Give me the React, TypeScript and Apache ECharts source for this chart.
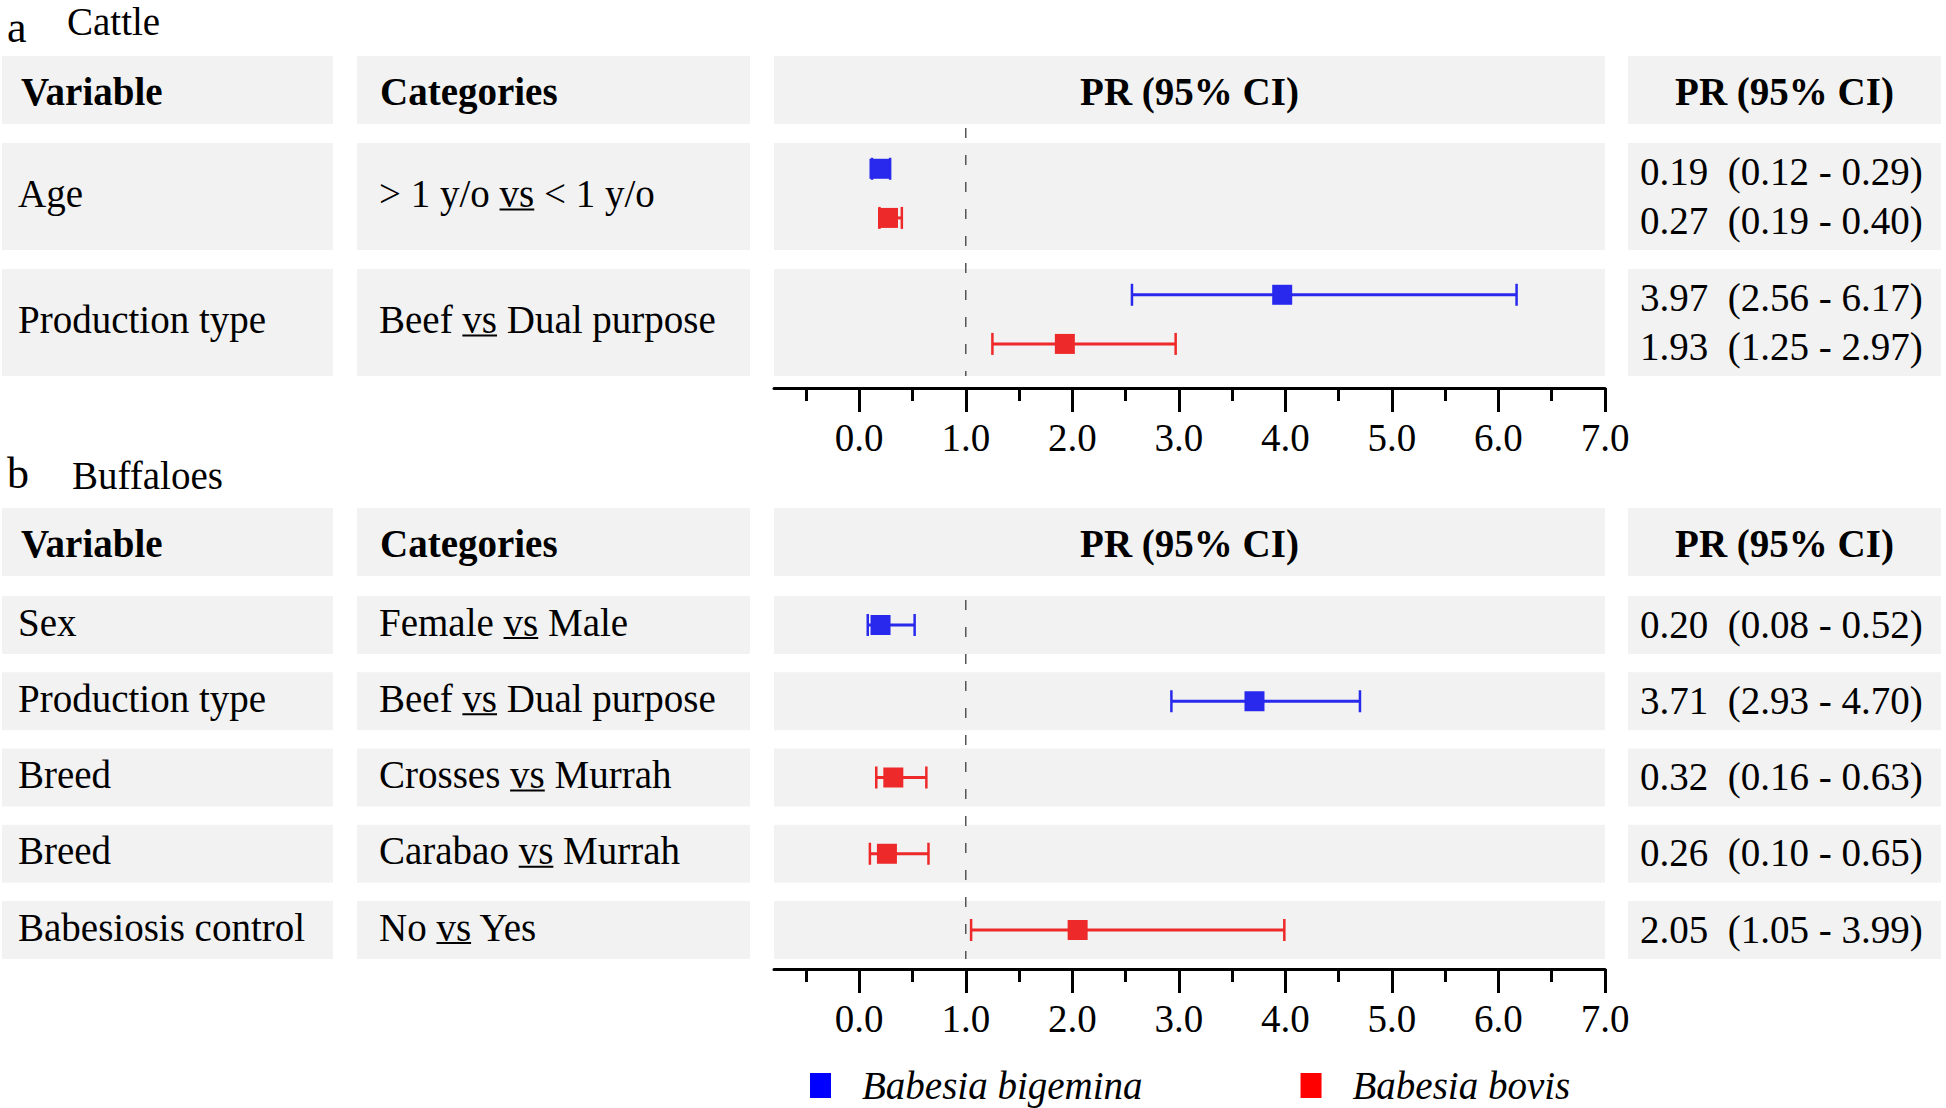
import React, { useEffect, useRef } from "react";
import * as echarts from "echarts";

const FONT = "'Liberation Serif', 'Times New Roman', Times, serif";

// ---------- data ----------
const speciesNames = ["Babesia bigemina", "Babesia bovis"];

const cattleVariables = ["Age", "Production type"];
const cattleCategories = ["> 1 y/o vs < 1 y/o", "Beef vs Dual purpose"];
const cattleBigeminaPR = [0.19, 3.97];
const cattleBigeminaLow = [0.12, 2.56];
const cattleBigeminaHigh = [0.29, 6.17];
const cattleBovisPR = [0.27, 1.93];
const cattleBovisLow = [0.19, 1.25];
const cattleBovisHigh = [0.4, 2.97];

const buffaloVariables = ["Sex", "Production type", "Breed", "Breed", "Babesiosis control"];
const buffaloCategories = [
  "Female vs Male",
  "Beef vs Dual purpose",
  "Crosses vs Murrah",
  "Carabao vs Murrah",
  "No vs Yes",
];
const buffaloSpecies = [0, 0, 1, 1, 1]; // 0 = B. bigemina, 1 = B. bovis
const buffaloPR = [0.2, 3.71, 0.32, 0.26, 2.05];
const buffaloLow = [0.08, 2.93, 0.16, 0.1, 1.05];
const buffaloHigh = [0.52, 4.7, 0.63, 0.65, 3.99];

const xTickValues = [0, 1, 2, 3, 4, 5, 6, 7];
const xMinorTickValues = [-0.5, 0.5, 1.5, 2.5, 3.5, 4.5, 5.5, 6.5];
const xMin = -0.8;
const xMax = 7;
const referenceValue = 1;

const headerTexts = ["Variable", "Categories", "PR (95% CI)", "PR (95% CI)"];

// ---------- styles / layout ----------
const pointColors = ["#2929EE", "#EE2929"];
const legendColors = ["#0000FF", "#FF0000"];
const PANEL = "#F2F2F2";

const COL = {
  varX: 2, varW: 331, varText: 18, varHeadText: 21,
  catX: 357, catW: 393, catText: 379, catHeadText: 380,
  plotX: 774, plotW: 831,
  prX: 1628, prW: 313, prText: 1640,
};

const CAT = { headerTop: 56, headerH: 68, rowsTop: 143, step: 126, panelH: 107, axisOffset: 12 };
const BUF = { headerTop: 508, headerH: 68, rowsTop: 596, step: 76.25, panelH: 58, axisOffset: 10 };
const cattleSpeciesOffset = [-0.22, 0.17];

function fmtPR(pr: number, lo: number, hi: number) {
  return `${pr.toFixed(2)}  (${lo.toFixed(2)} - ${hi.toFixed(2)})`;
}

let measureCtx: CanvasRenderingContext2D | null = null;
function measure(text: string, font: string) {
  if (!measureCtx) measureCtx = document.createElement("canvas").getContext("2d");
  measureCtx!.font = font;
  return measureCtx!.measureText(text).width;
}

const REG = `39px ${FONT}`;
const BOLD = `bold 39px ${FONT}`;

function txt(text: string, x: number, y: number, font: string, align = "left") {
  return {
    type: "text",
    z: 5,
    silent: true,
    style: {
      text, x, y, font, fill: "#000",
      textAlign: align, align,
      textVerticalAlign: "middle", verticalAlign: "middle",
    },
  };
}
function rect(x: number, y: number, w: number, h: number) {
  return { type: "rect", z: 0, silent: true, shape: { x, y, width: w, height: h }, style: { fill: PANEL } };
}
function underline(s: string, x0: number, cy: number) {
  const idx = s.indexOf(" vs ") + 1;
  const x1 = x0 + measure(s.slice(0, idx), REG);
  const x2 = x0 + measure(s.slice(0, idx + 2), REG);
  return { type: "line", z: 5, silent: true, shape: { x1, y1: cy + 16, x2, y2: cy + 16 }, style: { stroke: "#000", lineWidth: 2 } };
}

function sectionGraphics(L: typeof CAT, vars: string[], cats: string[], prTexts: string[][], prTextY: number[][]) {
  const els: any[] = [];
  const hc = L.headerTop + L.headerH / 2 + 1;
  els.push(rect(COL.varX, L.headerTop, COL.varW, L.headerH));
  els.push(rect(COL.catX, L.headerTop, COL.catW, L.headerH));
  els.push(rect(COL.plotX, L.headerTop, COL.plotW, L.headerH));
  els.push(rect(COL.prX, L.headerTop, COL.prW, L.headerH));
  els.push(txt(headerTexts[0], COL.varHeadText, hc, BOLD));
  els.push(txt(headerTexts[1], COL.catHeadText, hc, BOLD));
  els.push(txt(headerTexts[2], COL.plotX + COL.plotW / 2, hc, BOLD, "center"));
  els.push(txt(headerTexts[3], COL.prX + COL.prW / 2, hc, BOLD, "center"));
  vars.forEach((v, i) => {
    const top = L.rowsTop + i * L.step;
    const cy = top + L.panelH / 2 - 3;
    els.push(rect(COL.varX, top, COL.varW, L.panelH));
    els.push(rect(COL.catX, top, COL.catW, L.panelH));
    els.push(rect(COL.plotX, top, COL.plotW, L.panelH));
    els.push(rect(COL.prX, top, COL.prW, L.panelH));
    els.push(txt(v, COL.varText, cy, REG));
    els.push(txt(cats[i], COL.catText, cy, REG));
    els.push(underline(cats[i], COL.catText, cy));
    prTexts[i].forEach((t, k) => els.push(txt(t, COL.prText, prTextY[i][k], REG)));
  });
  return els;
}

function errorBarRender(params: any, api: any) {
  const y = api.value(2);
  const a = api.coord([api.value(0), y]);
  const b = api.coord([api.value(1), y]);
  const color = pointColors[api.value(3)];
  const h = 11;
  return {
    type: "group",
    children: [
      { type: "line", shape: { x1: a[0], y1: a[1], x2: b[0], y2: b[1] }, style: { stroke: color, lineWidth: 3 } },
      { type: "line", shape: { x1: a[0], y1: a[1] - h, x2: a[0], y2: a[1] + h }, style: { stroke: color, lineWidth: 2.5 } },
      { type: "line", shape: { x1: b[0], y1: b[1] - h, x2: b[0], y2: b[1] + h }, style: { stroke: color, lineWidth: 2.5 } },
    ],
  };
}

function xAxesFor(gridIndex: number, offset: number) {
  return [
    {
      gridIndex, type: "value", min: xMin, max: xMax, position: "bottom", offset,
      axisLine: { show: true, onZero: false, lineStyle: { color: "#000", width: 3 } },
      axisTick: { show: true, customValues: xTickValues, length: 24, lineStyle: { color: "#000", width: 3 } },
      axisLabel: {
        show: true, customValues: xTickValues, margin: 30, color: "#000",
        fontSize: 39, fontFamily: FONT, formatter: (v: number) => v.toFixed(1),
      },
      splitLine: { show: false },
    },
    {
      gridIndex, type: "value", min: xMin, max: xMax, position: "bottom", offset,
      axisLine: { show: false, onZero: false },
      axisTick: { show: true, customValues: xMinorTickValues, length: 13, lineStyle: { color: "#000", width: 3 } },
      axisLabel: { show: false },
      splitLine: { show: false },
    },
  ];
}

export default function App() {
  const ref = useRef<HTMLDivElement>(null);
  useEffect(() => {
    document.body.style.margin = "0";
    const chart = echarts.init(ref.current!, null, { renderer: "svg" });

    const catHalf = CAT.panelH / 2 / CAT.step;
    const bufHalf = BUF.panelH / 2 / BUF.step;
    const nC = cattleVariables.length;
    const nB = buffaloVariables.length;

    const cattleSets = [
      { pr: cattleBigeminaPR, lo: cattleBigeminaLow, hi: cattleBigeminaHigh },
      { pr: cattleBovisPR, lo: cattleBovisLow, hi: cattleBovisHigh },
    ];
    const cattleErr: number[][] = [];
    cattleSets.forEach((s, k) =>
      s.pr.forEach((_, i) => cattleErr.push([s.lo[i], s.hi[i], i + cattleSpeciesOffset[k], k]))
    );
    const bufErr = buffaloPR.map((_, i) => [buffaloLow[i], buffaloHigh[i], i, buffaloSpecies[i]]);

    const cattleRowCenter = (i: number) => CAT.rowsTop + CAT.panelH / 2 + i * CAT.step;
    const bufRowCenter = (i: number) => BUF.rowsTop + BUF.panelH / 2 + i * BUF.step;

    const cattlePrTexts = cattleVariables.map((_, i) =>
      cattleSets.map((s) => fmtPR(s.pr[i], s.lo[i], s.hi[i]))
    );
    const cattlePrY = cattleVariables.map((_, i) =>
      cattleSets.map((_s, k) => cattleRowCenter(i) + cattleSpeciesOffset[k] * CAT.step + 3)
    );
    const bufPrTexts = buffaloVariables.map((_, i) => [fmtPR(buffaloPR[i], buffaloLow[i], buffaloHigh[i])]);
    const bufPrY = buffaloVariables.map((_, i) => [bufRowCenter(i) - 1]);

    const graphics: any[] = [
      txt("a", 7, 27, `44px ${FONT}`),
      txt("Cattle", 67, 21, REG),
      txt("b", 7, 473, `44px ${FONT}`),
      txt("Buffaloes", 72, 475, REG),
      ...sectionGraphics(CAT, cattleVariables, cattleCategories, cattlePrTexts, cattlePrY),
      ...sectionGraphics(BUF, buffaloVariables, buffaloCategories, bufPrTexts, bufPrY),
    ];

    const refLineStyle = { type: [10, 17], color: "#555", width: 1.5 };

    const option: any = {
      animation: false,
      backgroundColor: "#fff",
      textStyle: { fontFamily: FONT },
      grid: [
        { left: COL.plotX, top: CAT.rowsTop, width: COL.plotW, height: (nC - 1) * CAT.step + CAT.panelH },
        { left: COL.plotX, top: BUF.rowsTop, width: COL.plotW, height: (nB - 1) * BUF.step + BUF.panelH },
      ],
      xAxis: [...xAxesFor(0, CAT.axisOffset), ...xAxesFor(1, BUF.axisOffset)],
      yAxis: [
        { gridIndex: 0, type: "value", inverse: true, min: -catHalf, max: nC - 1 + catHalf, show: false },
        { gridIndex: 1, type: "value", inverse: true, min: -bufHalf, max: nB - 1 + bufHalf, show: false },
      ],
      legend: {
        left: 810, top: 1066, padding: 0, icon: "rect", itemWidth: 21, itemHeight: 25, itemGap: 158,
        selectedMode: false,
        textStyle: { fontFamily: FONT, fontStyle: "italic", fontSize: 39, color: "#000", padding: [0, 0, 0, 26] },
        data: speciesNames.map((n, k) => ({ name: n, itemStyle: { color: legendColors[k] } })),
      },
      graphic: { elements: graphics },
      series: [
        {
          type: "line", xAxisIndex: 0, yAxisIndex: 0, silent: true, clip: false, symbol: "none", z: 1,
          lineStyle: refLineStyle,
          data: [[referenceValue, -catHalf - 15 / CAT.step], [referenceValue, nC - 1 + catHalf]],
        },
        {
          type: "custom", xAxisIndex: 0, yAxisIndex: 0, silent: true, z: 3,
          renderItem: errorBarRender, encode: { x: [0, 1], y: 2 }, data: cattleErr,
        },
        ...cattleSets.map((s, k) => ({
          type: "scatter", name: speciesNames[k], xAxisIndex: 0, yAxisIndex: 0, silent: true, z: 4,
          symbol: "rect", symbolSize: 20, itemStyle: { color: pointColors[k], opacity: 1 },
          data: s.pr.map((v, i) => [v, i + cattleSpeciesOffset[k]]),
        })),
        {
          type: "line", xAxisIndex: 2, yAxisIndex: 1, silent: true, clip: false, symbol: "none", z: 1,
          lineStyle: refLineStyle,
          data: [[referenceValue, -bufHalf + 4 / BUF.step], [referenceValue, nB - 1 + bufHalf]],
        },
        {
          type: "custom", xAxisIndex: 2, yAxisIndex: 1, silent: true, z: 3,
          renderItem: errorBarRender, encode: { x: [0, 1], y: 2 }, data: bufErr,
        },
        ...speciesNames.map((n, k) => ({
          type: "scatter", name: n, xAxisIndex: 2, yAxisIndex: 1, silent: true, z: 4,
          symbol: "rect", symbolSize: 20, itemStyle: { color: pointColors[k], opacity: 1 },
          data: buffaloPR.map((v, i) => (buffaloSpecies[i] === k ? [v, i] : null)).filter((d) => d !== null),
        })),
      ],
    };

    chart.setOption(option);
    return () => chart.dispose();
  }, []);
  return <div ref={ref} style={{ width: 1946, height: 1108 }} />;
}
